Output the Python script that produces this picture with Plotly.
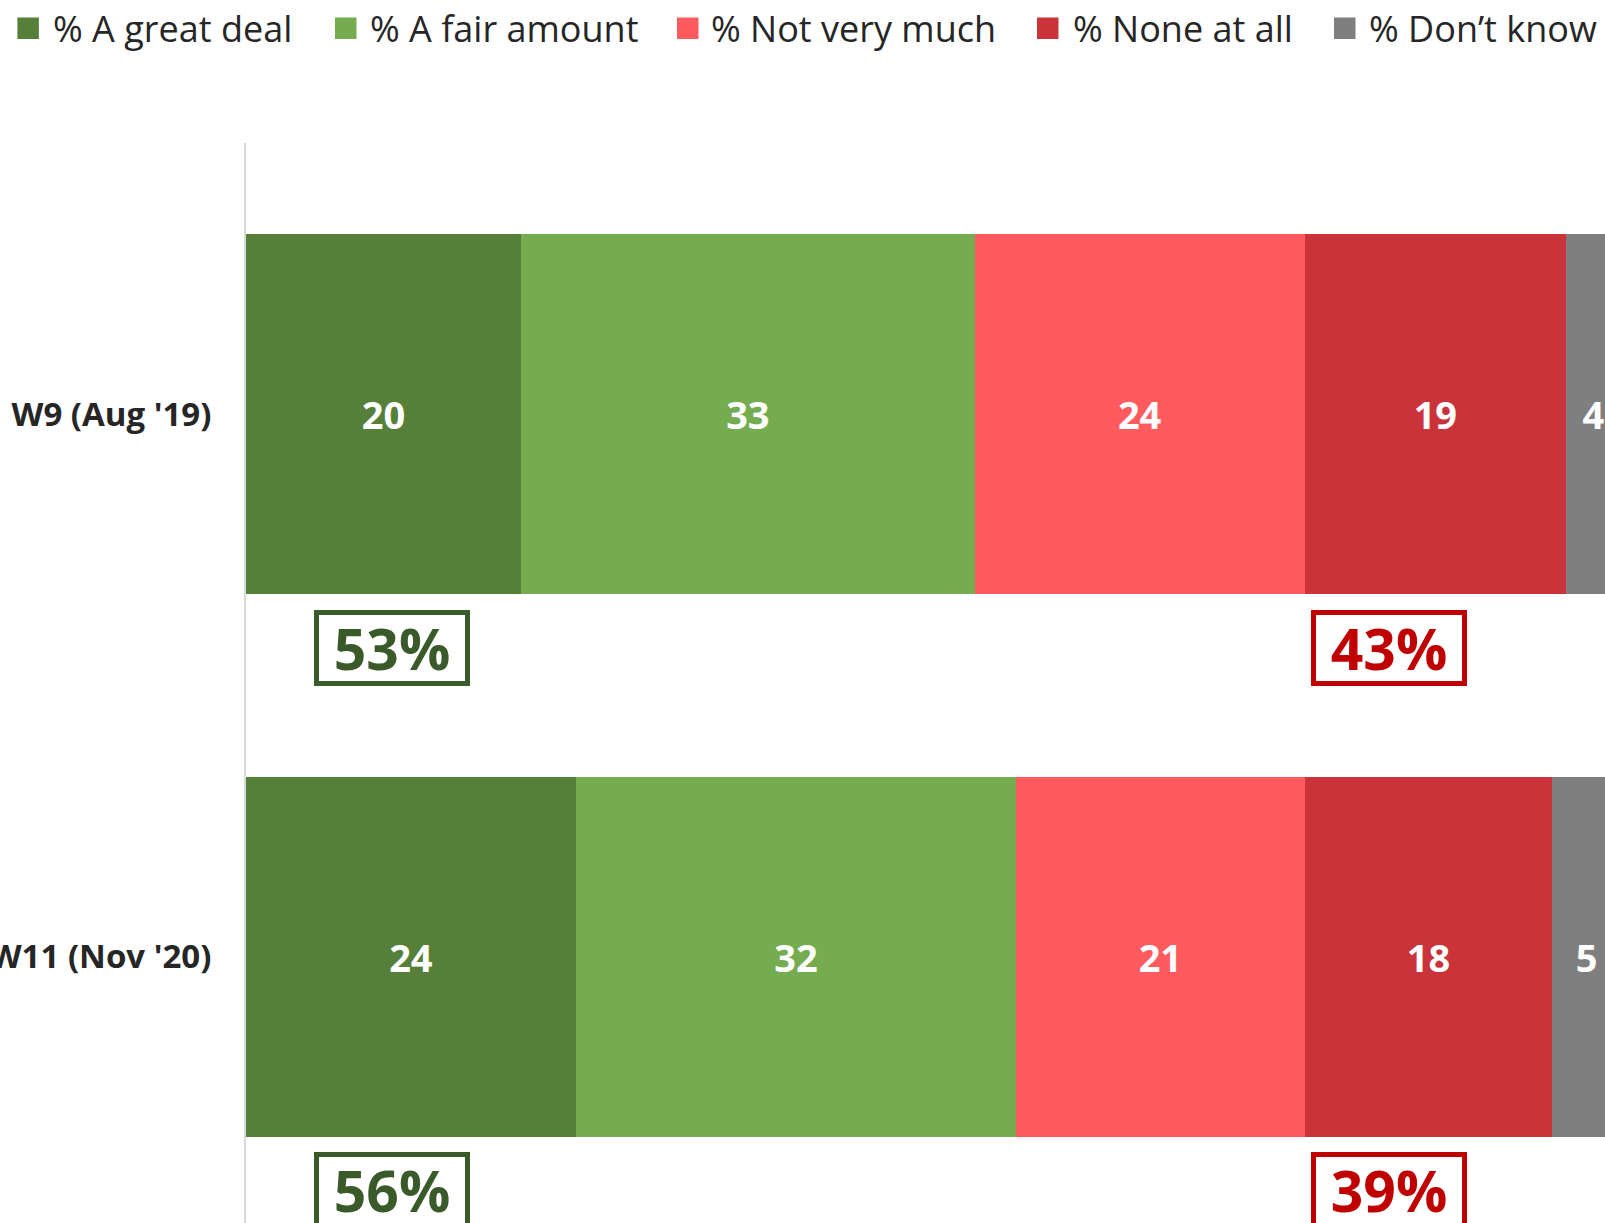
import plotly.graph_objects as go

categories = ["W9 (Aug '19)", "W11 (Nov '20)"]
series_names = ["% A great deal", "% A fair amount", "% Not very much", "% None at all", "% Don’t know"]
great_deal = [20, 24]
fair_amount = [33, 32]
not_very_much = [24, 21]
none_at_all = [19, 18]
dont_know = [4, 5]
trust_totals = ["53%", "56%"]
distrust_totals = ["43%", "39%"]

colors = ["#56803A", "#74AC4F", "#FF5B5F", "#CB333B", "#7F7F7F"]
series_values = [great_deal, fair_amount, not_very_much, none_at_all, dont_know]

W, H = 1605, 1223
L, T = 246, 143
PW = W - L
FONT = "Open Sans"

fig = go.Figure()
for name, vals, col in zip(series_names, series_values, colors):
    fig.add_trace(go.Bar(
        y=categories, x=vals, name=name, orientation="h",
        marker=dict(color=col, line=dict(width=0)),
        text=[str(v) for v in vals], textposition="inside",
        insidetextanchor="middle", textangle=0,
        textfont=dict(family=FONT, size=38, color="white", weight="bold"),
        showlegend=False, hoverinfo="x+name",
    ))

def px_to_paper_x(px):
    return (px - L) / PW

def px_to_paper_y(py):
    return 1 - (py - T) / (H - T)

shapes = []
annotations = []
# custom legend
leg_marker_x = [17.4, 335, 677, 1037, 1334]
leg_text_x = [51, 368, 709, 1071, 1367]
for name, col, mx, tx in zip(series_names, colors, leg_marker_x, leg_text_x):
    shapes.append(dict(type="rect", xref="paper", yref="paper",
                       x0=px_to_paper_x(mx), x1=px_to_paper_x(mx + 21.5),
                       y0=px_to_paper_y(39), y1=px_to_paper_y(17.5),
                       fillcolor=col, line=dict(width=0)))
    annotations.append(dict(text=name, xref="paper", yref="paper",
                            x=px_to_paper_x(tx), y=px_to_paper_y(28.5),
                            xanchor="left", yanchor="middle", showarrow=False,
                            font=dict(family=FONT, size=36, color="#262626")))

# net boxes
for i in range(len(categories)):
    annotations.append(dict(text=trust_totals[i], x=10.6, y=i + 0.43, xref="x", yref="y",
                            showarrow=False, xanchor="center", yanchor="middle",
                            width=146, height=66, borderwidth=5, borderpad=0,
                            bordercolor="#3B5A2A", bgcolor="white",
                            font=dict(family=FONT, size=57, color="#3B5A2A", weight="bold")))
    annotations.append(dict(text=distrust_totals[i], x=83.1, y=i + 0.43, xref="x", yref="y",
                            showarrow=False, xanchor="center", yanchor="middle",
                            width=146, height=66, borderwidth=5, borderpad=0,
                            bordercolor="#C00000", bgcolor="white",
                            font=dict(family=FONT, size=57, color="#C00000", weight="bold")))

unit_px = 542.5
span = (H - T) / unit_px

fig.update_layout(
    width=W, height=H,
    margin=dict(l=L, r=0, t=T, b=0, pad=0, autoexpand=False),
    barmode="stack", bargap=0.336,
    plot_bgcolor="white", paper_bgcolor="white",
    shapes=shapes, annotations=annotations,
    xaxis=dict(range=[0, PW / 13.75], showgrid=False, zeroline=False, automargin=False,
               showticklabels=False, ticks="", showline=False, fixedrange=True),
    yaxis=dict(type="category", range=[-0.5 + span, -0.5], showgrid=False, automargin=False,
               zeroline=False, showline=True, linecolor="#D9D9D9", linewidth=2,
               ticks="", ticklabelstandoff=26,
               tickfont=dict(family=FONT, size=33, color="#262626", weight="bold")),
)

fig.write_html("out.html", config={"displayModeBar": False},
               post_script="document.body.style.margin='0';document.body.style.overflow='hidden';")
